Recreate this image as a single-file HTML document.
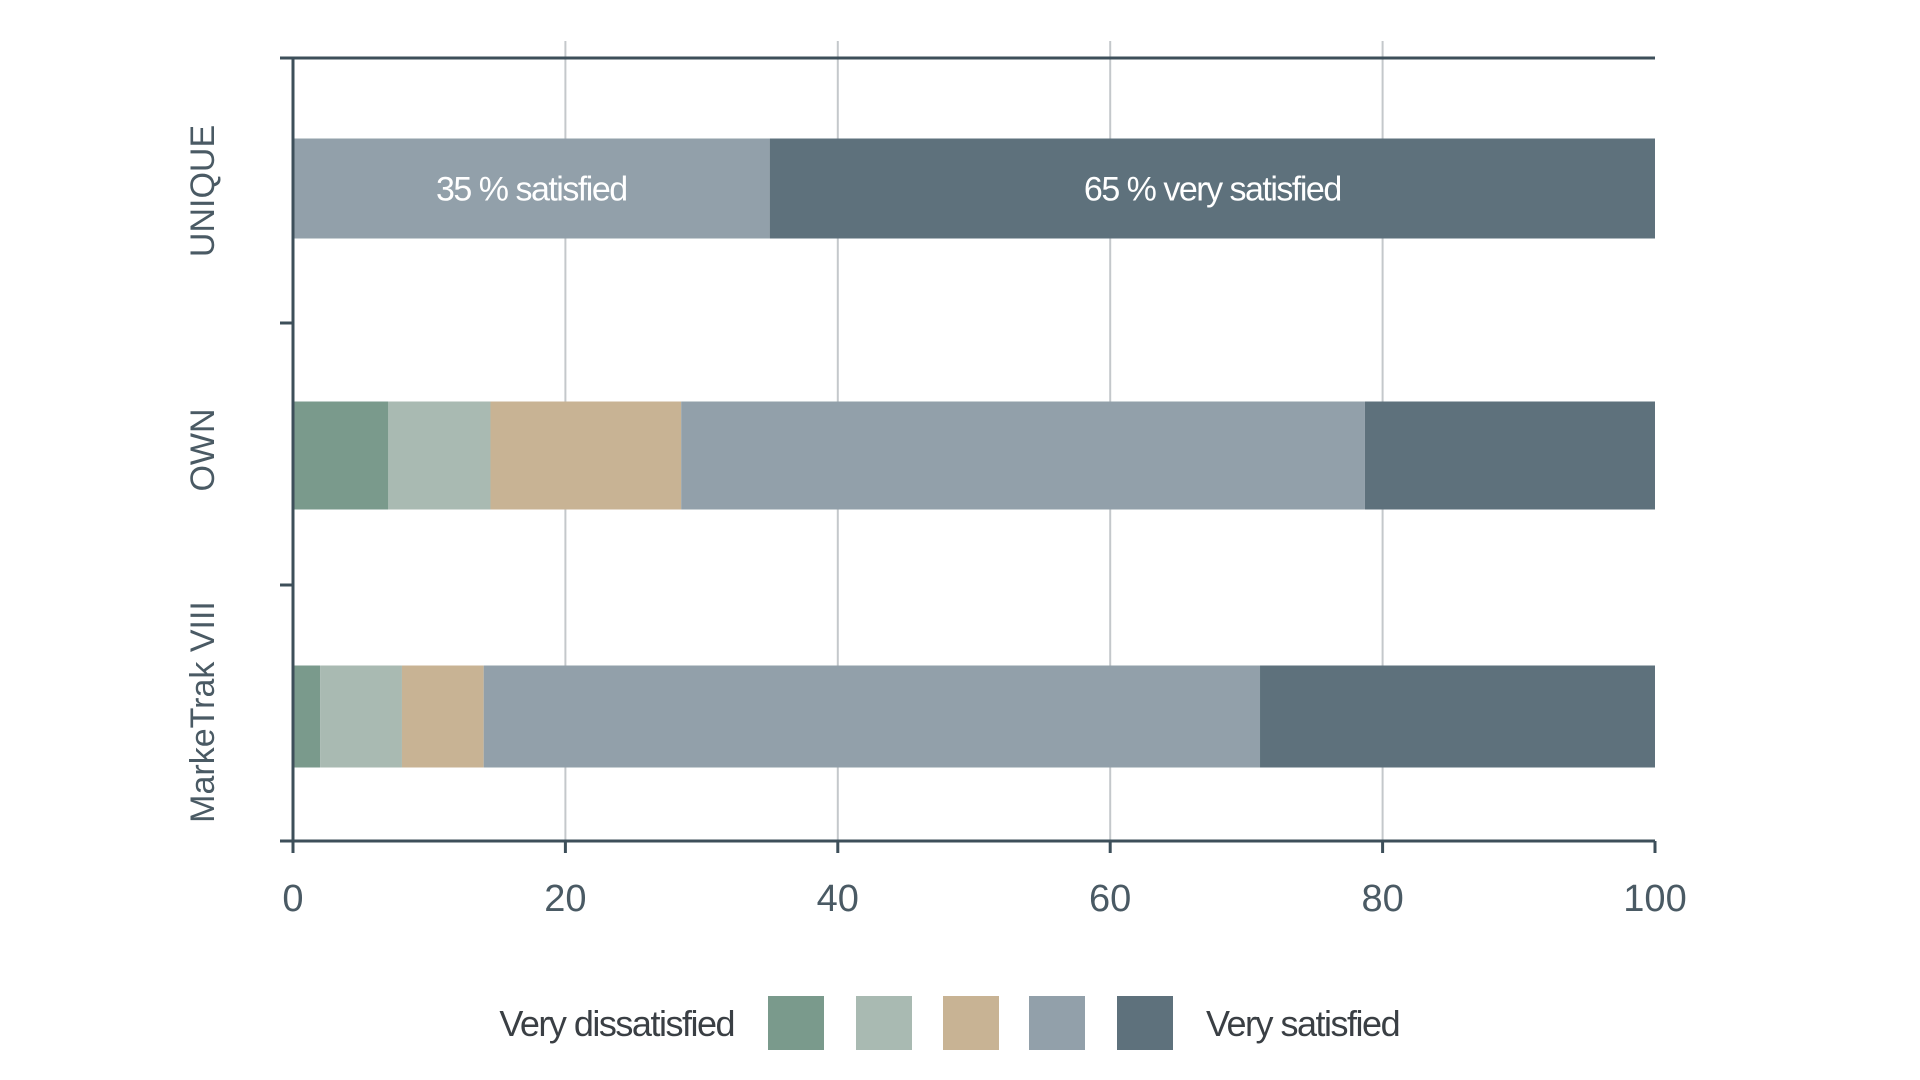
<!DOCTYPE html>
<html><head><meta charset="utf-8"><style>
html,body{margin:0;padding:0;background:#fff;}
svg{display:block;font-family:"Liberation Sans",sans-serif;}
</style></head><body>
<svg id="chart" width="1920" height="1080" viewBox="0 0 1920 1080" xmlns="http://www.w3.org/2000/svg">
<g id="grid"></g>
<g id="bars"></g>
<g id="axes"></g>
<g id="legend"></g>
</svg>
<script>
const categories = ["UNIQUE", "OWN", "MarkeTrak VIII"];
const veryDissatisfied = [0, 7, 2];
const dissatisfied = [0, 7.5, 6];
const neutral = [0, 14, 6];
const satisfied = [35, 50.2, 57];
const verySatisfied = [65, 21.3, 29];
const xTicks = [0, 20, 40, 60, 80, 100];
const barLabels = [["35 % satisfied", "65 % very satisfied"], null, null];
const colors = ["#7a9a8c", "#a9bab2", "#c8b394", "#92a0aa", "#5e717c"];

const NS = "http://www.w3.org/2000/svg";
const X0 = 293, X1 = 1655, YTOP = 58, YBOT = 841;
function xs(v){ return X0 + (v/100)*(X1-X0); }
const bandH = (YBOT - YTOP) / categories.length;
function yc(i){ return YTOP + bandH*(i+0.5) + [0, 6, 6][i]; }
const barH = [100, 108, 102];
function mk(tag, attrs, parent){
  const e = document.createElementNS(NS, tag);
  for (const k in attrs) e.setAttribute(k, attrs[k]);
  parent.appendChild(e); return e;
}
const grid = document.getElementById('grid');
const bars = document.getElementById('bars');
const axes = document.getElementById('axes');
const legend = document.getElementById('legend');
const axisCol = "#3d4f5a";

xTicks.forEach((t, i) => {
  if (t > 0 && t < 100) {
    const g = mk('line', {x1: xs(t), x2: xs(t), y1: 41, y2: YBOT, stroke: "#c4c8cb", "stroke-width": 2}, grid);
    
    
  }
});

const series = [veryDissatisfied, dissatisfied, neutral, satisfied, verySatisfied];
categories.forEach((c, i) => {
  let acc = 0;
  const cy = yc(i), h = barH[i];
  series.forEach((s, j) => {
    const v = s[i];
    if (v > 0) {
      const r = mk('rect', {x: xs(acc), y: cy - h/2, width: xs(acc+v) - xs(acc), height: h, fill: colors[j]}, bars);
      
      
    }
    acc += v;
  });
  if (barLabels[i]) {
    let a = 0, k = 0;
    series.forEach((s, j) => {
      const v = s[i];
      if (v > 0) {
        const t = mk('text', {x: (xs(a) + xs(a+v))/2, y: cy + 12, "text-anchor": "middle", fill: "#ffffff", "font-size": 34, "letter-spacing": "-1.5"}, bars);
        t.textContent = barLabels[i][k++];
        
        
      }
      a += v;
    });
  }
  const lab = mk('text', {x: 0, y: 0, transform: `translate(214 ${[191,450,712][i]}) rotate(-90)`, "text-anchor": "middle", fill: "#4a5a64", "font-size": 34}, axes);
  lab.textContent = c;
  
  
});

// axes lines
let l = mk('line', {x1: 280, x2: X1, y1: YTOP, y2: YTOP, stroke: axisCol, "stroke-width": 3}, axes);
 
l = mk('line', {x1: 280, x2: X1, y1: YBOT, y2: YBOT, stroke: axisCol, "stroke-width": 3}, axes);
 
l = mk('line', {x1: X0, x2: X0, y1: YTOP, y2: YBOT, stroke: axisCol, "stroke-width": 3}, axes);
 
[323, 585].forEach(y => {
  const t = mk('line', {x1: 280, x2: X0, y1: y, y2: y, stroke: axisCol, "stroke-width": 3}, axes);
   
});
xTicks.forEach(t => {
  const tk = mk('line', {x1: xs(t), x2: xs(t), y1: YBOT, y2: 853, stroke: axisCol, "stroke-width": 3}, axes);
   
  const tx = mk('text', {x: xs(t), y: 911, "text-anchor": "middle", fill: "#4a5a64", "font-size": 38}, axes);
  tx.textContent = t;
   
});

// legend
let lt = mk('text', {x: 734, y: 1036, "text-anchor": "end", fill: "#3a3f44", "font-size": 36, "letter-spacing": "-1.5"}, legend);
lt.textContent = "Very dissatisfied";
 
[768, 856, 943, 1029, 1117].forEach((x, j) => {
  const s = mk('rect', {x: x, y: 996, width: 56, height: 54, fill: colors[j]}, legend);
   
});
lt = mk('text', {x: 1206, y: 1036, fill: "#3a3f44", "font-size": 36, "letter-spacing": "-1.5"}, legend);
lt.textContent = "Very satisfied";
 
</script>
</body></html>
